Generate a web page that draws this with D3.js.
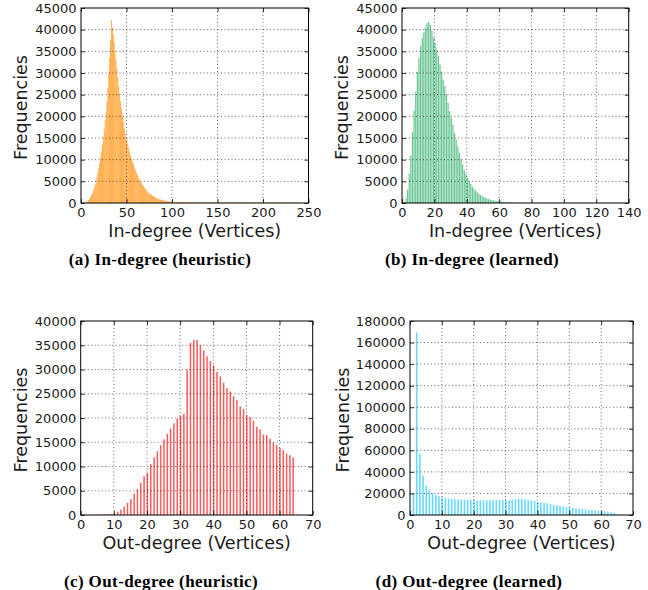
<!DOCTYPE html>
<html>
<head>
<meta charset="utf-8">
<script src="https://cdn.jsdelivr.net/npm/d3@7"></script>
<style>
  body { margin: 0; background: #fff; }
  text { font-family: "DejaVu Sans", sans-serif; }
</style>
</head>
<body>
<svg id="chart" width="648" height="590"></svg>
<script>
// frequencies per degree, index = degree
const inDegreeHeuristic = [
  0, 0, 0, 0, 20, 60, 200, 450, 700, 1000,
  1400, 1800, 2300, 2900, 3500, 4200, 5000, 5900, 6900, 8000,
  9200, 10500, 12000, 13500, 15200, 17000, 19000, 21000, 23500, 26500,
  30000, 33500, 37500, 42200, 40500, 39000, 37000, 35000, 33000, 31000,
  29000, 27000, 25200, 23500, 21800, 20200, 18800, 17400, 16100, 15200,
  14400, 13500, 12600, 11800, 11000, 10300, 9600, 9000, 8400, 7800,
  7300, 6800, 6300, 5800, 5400, 5000, 4600, 4200, 3900, 3600,
  3300, 3050, 2800, 2550, 2350, 2150, 1980, 1820, 1680, 1550,
  1420, 1300, 1200, 1100, 1000, 920, 850, 780, 720, 660,
  600, 550, 500, 460, 420, 380, 350, 320, 290, 260,
  240, 230, 220, 210, 200, 195, 190, 185, 180, 175,
  170, 165, 160, 155, 150, 148, 146, 144, 142, 140,
  138, 136, 134, 132, 130, 128, 126, 125, 124, 123,
  122, 121, 120, 120, 119, 118, 118, 117, 116, 116,
  115, 115, 114, 114, 113, 113, 112, 112, 112, 111,
  111, 111, 110, 110, 110, 110, 109, 109, 109, 109,
  109, 108, 108, 108, 108, 108, 107, 107, 107, 107,
  107, 107, 106, 106, 106, 106, 106, 106, 106, 105,
  105, 105, 105, 105, 105, 105, 105, 105, 104, 104,
  104, 104, 104, 104, 104, 104, 104, 104, 104, 103,
  103, 103, 103, 103, 103, 103, 103, 103, 103, 103,
  103, 103, 103, 102, 102, 102, 102, 102, 102, 102,
  102, 102, 102, 102, 102, 102, 102, 102, 102, 102,
  101, 101, 101, 101, 101, 101, 101, 101, 101, 101
];

const inDegreeLearned = [
  0, 200, 1100, 3100, 6800, 11000, 16400, 21400, 25700, 30300,
  33500, 36200, 38100, 39400, 40500, 41500, 41800, 41200, 39800, 38200,
  36900, 35400, 33900, 32000, 30400, 28500, 27000, 25100, 23100, 21200,
  19700, 18100, 16200, 14700, 13100, 11600, 10200, 8900, 7600, 6700,
  5800, 5000, 4400, 3800, 3300, 2900, 2500, 2150, 1850, 1600,
  1400, 1200, 1050, 900, 780, 680, 590, 510, 440, 380,
  330, 280, 240, 200, 170, 140, 120, 100, 85, 70,
  60, 50, 40, 35, 30, 25, 20, 15, 10, 5
];

const outDegreeHeuristic = [
  0, 40, 50, 60, 80, 100, 120, 150, 200, 250,
  300, 650, 1100, 1700, 2500, 3300, 4400, 5300, 6600, 8000,
  8700, 10500, 11900, 13150, 14400, 15600, 16700, 17800, 18900, 19900,
  20500, 20800, 30000, 35500, 36100, 36100, 35000, 33950, 32700, 31750,
  30850, 29480, 28580, 27270, 26170, 25480, 24520, 23690, 22380, 21830,
  20590, 20180, 19420, 18180, 17630, 16600, 16460, 15700, 14950, 14400,
  13840, 13360, 12670, 12330, 11850
];

const outDegreeLearned = [
  0, 20100, 169400, 56600, 36500, 27200, 23200, 20400, 18500, 17300,
  16500, 15800, 15200, 15000, 14800, 14500, 14400, 14300, 14200, 14200,
  14000, 13600, 13600, 13600, 13700, 13700, 13700, 13800, 13800, 13900,
  13900, 13600, 14200, 14840, 14840, 14840, 14500, 13900, 13600, 13000,
  12050, 11750, 11100, 10800, 9900, 9600, 9000, 8650, 8000, 7400,
  7100, 6500, 6200, 5900, 5600, 5300, 4900, 4600, 4300, 4000,
  3400, 3400, 3100, 2500, 1900
];

const xTicksInHeuristic = [0, 50, 100, 150, 200, 250];
const xTicksInLearned = [0, 20, 40, 60, 80, 100, 120, 140];
const xTicksOut = [0, 10, 20, 30, 40, 50, 60, 70];
const yTicksIn = [0, 5000, 10000, 15000, 20000, 25000, 30000, 35000, 40000, 45000];
const yTicksOutHeuristic = [0, 5000, 10000, 15000, 20000, 25000, 30000, 35000, 40000];
const yTicksOutLearned = [0, 20000, 40000, 60000, 80000, 100000, 120000, 140000, 160000, 180000];

const captions = [
  "(a) In-degree (heuristic)",
  "(b) In-degree (learned)",
  "(c) Out-degree (heuristic)",
  "(d) Out-degree (learned)"
];

const svg = d3.select("#chart");
svg.append("rect").attr("width", 648).attr("height", 590).attr("fill", "#fff");

const panels = [
  { values: inDegreeHeuristic, xTicks: xTicksInHeuristic, yTicks: yTicksIn,
    left: 81, right: 308.5, top: 8, bottom: 203,
    barStart: 0.05, barWidth: 0.9, fill: "#ff8c00", opacity: 0.8,
    xLabel: "In-degree (Vertices)", yLabelX: 27, caption: captions[0], capX: 160, capY: 265 },
  { values: inDegreeLearned, xTicks: xTicksInLearned, yTicks: yTicksIn,
    left: 402, right: 628.7, top: 8, bottom: 203,
    barStart: 0.1, barWidth: 0.75, fill: "#3cb371", opacity: 0.75,
    xLabel: "In-degree (Vertices)", yLabelX: 348, caption: captions[1], capX: 472, capY: 265 },
  { values: outDegreeHeuristic, xTicks: xTicksOut, yTicks: yTicksOutHeuristic,
    left: 80.7, right: 312.7, top: 321, bottom: 515,
    barStart: -0.1, barWidth: 0.45, fill: "#ff0000", opacity: 0.65,
    xLabel: "Out-degree (Vertices)", yLabelX: 27, caption: captions[2], capX: 161, capY: 587 },
  { values: outDegreeLearned, xTicks: xTicksOut, yTicks: yTicksOutLearned,
    left: 410, right: 633, top: 321, bottom: 515,
    barStart: -0.15, barWidth: 0.5, fill: "#00bfff", opacity: 0.6,
    xLabel: "Out-degree (Vertices)", yLabelX: 349, caption: captions[3], capX: 469, capY: 587 }
];

panels.forEach(drawPanel);

function drawPanel(p) {
  const g = svg.append("g");
  const x = d3.scaleLinear()
    .domain(d3.extent(p.xTicks))
    .range([p.left, p.right]);
  const y = d3.scaleLinear()
    .domain(d3.extent(p.yTicks))
    .range([p.bottom, p.top]);

  // bars
  g.append("g")
    .attr("fill", p.fill)
    .attr("fill-opacity", p.opacity)
    .selectAll("rect")
    .data(p.values.map((v, i) => ({ deg: i, v })).filter(d => d.v > 0))
    .join("rect")
      .attr("x", d => x(d.deg + p.barStart))
      .attr("width", x(p.barWidth) - x(0))
      .attr("y", d => y(d.v))
      .attr("height", d => y(0) - y(d.v));

  // dotted grid, drawn above the bars
  const grid = g.append("g")
    .attr("stroke", "#000")
    .attr("stroke-width", 0.8)
    .attr("stroke-dasharray", "1,2.5")
    .attr("stroke-opacity", 0.75);
  grid.selectAll("line.v")
    .data(p.xTicks.slice(1, -1))
    .join("line")
      .attr("class", "v")
      .attr("x1", d => x(d)).attr("x2", d => x(d))
      .attr("y1", p.top).attr("y2", p.bottom);
  grid.selectAll("line.h")
    .data(p.yTicks.slice(1, -1))
    .join("line")
      .attr("class", "h")
      .attr("x1", p.left).attr("x2", p.right)
      .attr("y1", d => y(d)).attr("y2", d => y(d));

  // axes with inward ticks
  const fmt = d3.format("d");
  g.append("g")
    .attr("transform", `translate(0,${p.bottom})`)
    .call(d3.axisBottom(x).tickValues(p.xTicks).tickFormat(fmt).tickSizeInner(-4).tickSizeOuter(0).tickPadding(5));
  g.append("g")
    .attr("transform", `translate(${p.left},0)`)
    .call(d3.axisLeft(y).tickValues(p.yTicks).tickFormat(fmt).tickSizeInner(-4).tickSizeOuter(0).tickPadding(4.5));
  g.append("g")
    .attr("transform", `translate(0,${p.top})`)
    .call(d3.axisTop(x).tickValues(p.xTicks).tickFormat("").tickSizeInner(-4).tickSizeOuter(0));
  g.append("g")
    .attr("transform", `translate(${p.right},0)`)
    .call(d3.axisRight(y).tickValues(p.yTicks).tickFormat("").tickSizeInner(-4).tickSizeOuter(0));

  g.selectAll(".domain").remove();
  g.selectAll(".tick line").attr("stroke", "#000").attr("stroke-width", 0.8);
  g.selectAll(".tick text")
    .attr("fill", "#1a1a1a")
    .style("font-family", "'DejaVu Sans', sans-serif")
    .style("font-size", "13px");

  // frame
  g.append("rect")
    .attr("x", p.left).attr("y", p.top)
    .attr("width", p.right - p.left).attr("height", p.bottom - p.top)
    .attr("fill", "none")
    .attr("stroke", "#000")
    .attr("stroke-width", 1);

  // axis titles
  g.append("text")
    .attr("x", (p.left + p.right) / 2)
    .attr("y", p.bottom + 34)
    .attr("text-anchor", "middle")
    .attr("fill", "#1a1a1a")
    .style("font-size", "17.5px")
    .text(p.xLabel);
  g.append("text")
    .attr("transform", `translate(${p.yLabelX},${(p.top + p.bottom) / 2 + 2}) rotate(-90)`)
    .attr("text-anchor", "middle")
    .attr("fill", "#1a1a1a")
    .style("font-size", "17.5px")
    .text("Frequencies");

  // sub-figure caption
  g.append("text")
    .attr("x", p.capX)
    .attr("y", p.capY)
    .attr("text-anchor", "middle")
    .attr("fill", "#000")
    .style("font-family", "'Liberation Serif', 'DejaVu Serif', serif")
    .style("font-weight", "bold")
    .style("font-size", "17px")
    .style("letter-spacing", "0.4px")
    .text(p.caption);
}
</script>
</body>
</html>
